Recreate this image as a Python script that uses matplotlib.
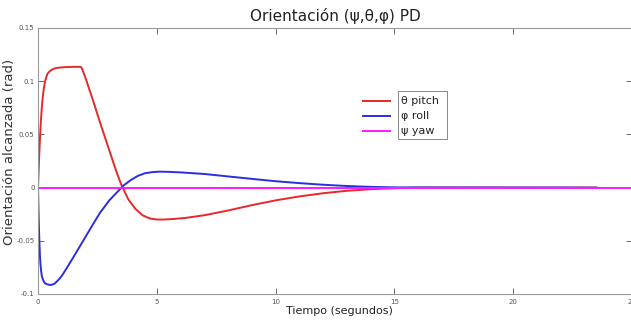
import matplotlib
matplotlib.use("Agg")
import matplotlib.pyplot as plt
from matplotlib.lines import Line2D
from matplotlib.patches import Rectangle

t_pitch = [0, 0.02, 0.05, 0.08, 0.12, 0.16, 0.2, 0.25, 0.3, 0.35, 0.4, 0.5, 0.6, 0.7, 0.8, 1.0, 1.2, 1.5, 1.8, 1.85,
           2.0, 2.3, 2.6, 3.0, 3.3, 3.5, 3.8, 4.1, 4.4, 4.7, 5.0, 5.3, 5.7, 6.2, 7, 8, 9, 10, 11, 12, 13, 14, 15, 16, 23.5]
pitch = [0, 0.012, 0.03, 0.045, 0.062, 0.075, 0.085, 0.094, 0.1, 0.104, 0.107, 0.1095, 0.111, 0.112, 0.1125, 0.113,
         0.1133, 0.1135, 0.1135, 0.112, 0.103, 0.083, 0.062, 0.035, 0.015, 0.003, -0.011, -0.020, -0.026, -0.029,
         -0.030, -0.030, -0.0295, -0.0285, -0.026, -0.0215, -0.0165, -0.012, -0.0083, -0.0053, -0.003, -0.0015,
         -0.0006, 0, 0]

t_roll = [0, 0.02, 0.04, 0.06, 0.08, 0.1, 0.13, 0.16, 0.2, 0.25, 0.3, 0.4, 0.5, 0.6, 0.7, 0.85, 1.0, 1.2, 1.5, 1.9,
          2.3, 2.6, 3.0, 3.3, 3.6, 3.9, 4.2, 4.5, 4.8, 5.1, 5.5, 6, 7, 8, 9, 10, 11, 12, 13, 14, 15, 23.5]
roll = [0, -0.02, -0.038, -0.052, -0.063, -0.071, -0.078, -0.083, -0.086, -0.0885, -0.09, -0.091, -0.0915, -0.0912,
        -0.0902, -0.087, -0.083, -0.076, -0.065, -0.050, -0.035, -0.024, -0.012, -0.005, 0.002, 0.007, 0.011,
        0.0135, 0.0145, 0.015, 0.0148, 0.0143, 0.0128, 0.0105, 0.0082, 0.006, 0.0042, 0.0027, 0.0015, 0.0007,
        0.0002, 0]

t_yaw = [0, 25]
yaw = [0, 0]

labels = ["θ pitch", "φ roll", "ψ yaw"]
colors = ["#e8282a", "#2a2ee0", "#ff1aff"]

fig = plt.figure(figsize=(6.31, 3.23), dpi=100)
ax = fig.add_axes([38/631, 1-294/323, 594/631, 266/323])

lp, = ax.plot(t_pitch, pitch, color=colors[0], lw=1.4)
lr, = ax.plot(t_roll, roll, color=colors[1], lw=1.4)
ly, = ax.plot(t_yaw, yaw, color=colors[2], lw=1.4)

ax.set_xlim(0, 25)
ax.set_ylim(-0.1, 0.15)
ax.set_xticks([0, 5, 10, 15, 20, 25])
ax.set_yticks([-0.1, -0.05, 0, 0.05, 0.1, 0.15])
ax.set_yticklabels(["-0.1", "-0.05", "0", "0.05", "0.1", "0.15"])
ax.tick_params(direction="in", length=4, width=0.6, labelsize=5, colors="#555555", top=True, right=True)
ax.tick_params(axis="y", pad=2.5)
for s in ax.spines.values():
    s.set_color("#999999")
    s.set_linewidth(0.8)

ax.set_title("Orientación (ψ,θ,φ) PD", fontsize=11, pad=5, color="#222222")
ax.set_xlabel("Tiempo (segundos)", fontsize=8, color="#222222")
ax.xaxis.set_label_coords(0.508, -0.045)
ax.set_ylabel("Orientación alcanzada (rad)", fontsize=9.5, color="#333333")
ax.yaxis.set_label_coords(-0.037, 0.534)

# legend drawn in MATLAB-like layout: lines outside the box
W, H = 631, 323
fig.add_artist(Rectangle((398/W, 1-139/H), 49/W, 48/H, transform=fig.transFigure,
                         fill=False, edgecolor="#888888", lw=0.7))
ys = [101, 116, 131]
for line, lab, yy in zip([lp, lr, ly], labels, ys):
    fig.add_artist(Line2D([363/W, 390/W], [1-yy/H, 1-yy/H], transform=fig.transFigure,
                          color=line.get_color(), lw=1.4))
    fig.text(401/W, 1-yy/H, lab, fontsize=8, va="center", ha="left", color="#222222")

fig.savefig("out.png", dpi=100)
